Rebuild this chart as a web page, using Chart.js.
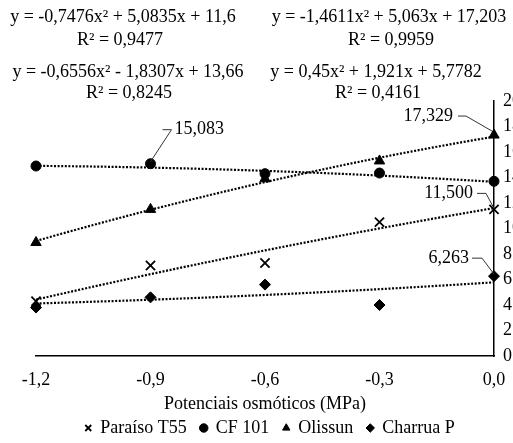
<!DOCTYPE html>
<html>
<head>
<meta charset="utf-8">
<script src="https://cdn.jsdelivr.net/npm/chart.js@4"></script>
<style>
	html, body { margin: 0; padding: 0; overflow: hidden; background: #fff; }
	canvas { display: block; }
</style>
</head>
<body>
<canvas id="chart-osmotic" width="540" height="443"></canvas>
<script>
// Chart data
const X_VALUES = [-1.2, -0.9, -0.6, -0.3, 0];
const X_TICKS = [-1.2, -0.9, -0.6, -0.3, 0];
const Y_TICKS = [0, 2, 4, 6, 8, 10, 12, 14, 16, 18, 20];

const SERIES_NAMES = ["Paraíso T55", "CF 101", "Olissun", "Charrua P"];
const PARAISO = [4.3, 7.1, 7.3, 10.5, 11.5];
const CF101 = [14.9, 15.083, 14.3, 14.35, 13.7];
const OLISSUN = [8.9, 11.5, 13.9, 15.3, 17.329];
const CHARRUA = [3.8, 4.6, 5.6, 4.0, 6.263];

// Polynomial trendlines (a, b, c) and R², as printed on the chart
const PARAISO_FIT = [-0.7476, 5.0835, 11.6];
const CF101_FIT = [-0.6556, -1.8307, 13.66];
const OLISSUN_FIT = [-1.4611, 5.063, 17.203];
const CHARRUA_FIT = [0.45, 1.921, 5.7782];
const R2 = [0.9477, 0.8245, 0.9959, 0.4161];

const FONT = "'Liberation Serif', 'Times New Roman', serif";
const BLACK = "#000";

const comma = (v) => String(v).replace(".", ",");

const trendPoints = (fit) => {
	const pts = [];
	for (let i = 0; i <= 24; i++) {
		const x = -1.2 + i * 0.05;
		pts.push({ x: x, y: fit[0] * x * x + fit[1] * x + fit[2] });
	}
	return pts;
};

const equationText = (fit) => {
	const b = fit[1];
	return "y = " + comma(fit[0]) + "x² " + (b < 0 ? "- " : "+ ") + comma(Math.abs(b)) + "x + " + comma(fit[2]);
};

const SERIES = [
	{ values: PARAISO, fit: PARAISO_FIT, style: "crossRot", radius: 6.5, border: 1.8 },
	{ values: CF101, fit: CF101_FIT, style: "circle", radius: 5, border: 1 },
	{ values: OLISSUN, fit: OLISSUN_FIT, style: "triangle", radius: 6, border: 1 },
	{ values: CHARRUA, fit: CHARRUA_FIT, style: "rectRot", radius: 5.5, border: 1 },
];

// Label placement (equation blocks and value callouts)
const EQ_POS = [
	{ cx: 123, y: 17, rx: 120, ry: 40 },
	{ cx: 128, y: 72, rx: 129, ry: 93 },
	{ cx: 389, y: 17, rx: 391, ry: 40 },
	{ cx: 376, y: 72, rx: 378, ry: 93 },
];
const CALLOUTS = [
	{ series: 1, index: 1, side: "right", tx: 24, ty: -34, l1: [12, -34], l2: [21, -34], l3: [0, -2] },
	{ series: 2, index: 4, side: "left", tx: -41, ty: -19, l1: [-36, -19], l2: [-28, -19], l3: [-2, -4] },
	{ series: 0, index: 4, side: "left", tx: -21, ty: -16, l1: [-17, -16], l2: [-8, -16], l3: [0, -1] },
	{ series: 3, index: 4, side: "left", tx: -25, ty: -18, l1: [-22, -18], l2: [-12, -18], l3: [0, -2] },
];

const annotations = {
	id: "annotations",
	afterDatasetsDraw(chart) {
		const ctx = chart.ctx;
		ctx.save();
		ctx.fillStyle = BLACK;
		ctx.font = "18px " + FONT;
		ctx.textBaseline = "middle";
		ctx.textAlign = "center";
		SERIES.forEach((s, i) => {
			const p = EQ_POS[i];
			ctx.fillText(equationText(s.fit), p.cx, p.y);
			ctx.fillText("R² = " + comma(R2[i]), p.rx, p.ry);
		});

		const xs = chart.scales.x;
		const ys = chart.scales.y;
		ctx.strokeStyle = "#333";
		ctx.lineWidth = 1;
		CALLOUTS.forEach((c) => {
			const v = SERIES[c.series].values[c.index];
			const px = xs.getPixelForValue(X_VALUES[c.index]);
			const py = ys.getPixelForValue(v);
			ctx.beginPath();
			ctx.moveTo(px + c.l1[0], py + c.l1[1]);
			ctx.lineTo(px + c.l2[0], py + c.l2[1]);
			ctx.lineTo(px + c.l3[0], py + c.l3[1]);
			ctx.stroke();
			ctx.textAlign = c.side === "right" ? "left" : "right";
			ctx.fillText(v.toFixed(3).replace(".", ","), px + c.tx, py + c.ty);
		});
		ctx.restore();
	},
};

const DATASETS = [];
SERIES.forEach((s, i) => {
	DATASETS.push({
		label: SERIES_NAMES[i],
		data: X_VALUES.map((x, j) => ({ x: x, y: s.values[j] })),
		pointStyle: s.style,
		pointRadius: s.radius,
		pointBorderWidth: s.border,
		backgroundColor: BLACK,
		borderColor: BLACK,
		borderWidth: s.border,
		showLine: false,
		clip: false,
	});
});
SERIES.forEach((s, i) => {
	DATASETS.push({
		type: "line",
		label: "trend",
		data: trendPoints(s.fit),
		borderColor: BLACK,
		borderWidth: 2.2,
		borderDash: [2, 1.6],
		borderCapStyle: "butt",
		pointRadius: 0,
		fill: false,
		tension: 0,
	});
});

// Chart config
const CONFIG = {
	type: "scatter",
	data: { datasets: DATASETS },
	options: {
		responsive: false,
		animation: false,
		layout: {
			padding: { left: 0, top: 101, right: 0, bottom: -4 },
		},
		plugins: {
			legend: {
				position: "bottom",
				labels: {
					usePointStyle: true,
					boxWidth: 6,
					boxHeight: 6,
					padding: 14,
					color: BLACK,
					font: { family: FONT, size: 18 },
					filter: (item) => item.text !== "trend",
				},
			},
			tooltip: { enabled: false },
		},
		scales: {
			x: {
				type: "linear",
				min: -1.2,
				max: 0,
				border: { color: BLACK, width: 1.5 },
				grid: { display: false, drawTicks: false },
				afterBuildTicks: (scale) => {
					scale.ticks = X_TICKS.map((v) => ({ value: v }));
				},
				afterFit: (scale) => {
					scale.height = 49;
				},
				ticks: {
					padding: 13,
					color: BLACK,
					font: { family: FONT, size: 18 },
					callback: (v) => Number(v).toFixed(1).replace(".", ","),
				},
				title: {
					display: true,
					text: "Potenciais osmóticos (MPa)",
					color: BLACK,
					font: { family: FONT, size: 18 },
					padding: { top: 0, bottom: -10 },
				},
			},
			y: {
				position: "right",
				min: 0,
				max: 20,
				border: { color: BLACK, width: 1.5 },
				grid: { display: false, drawTicks: false },
				afterBuildTicks: (scale) => {
					scale.ticks = Y_TICKS.map((v) => ({ value: v }));
				},
				afterFit: (scale) => {
					scale.width = 46;
				},
				ticks: {
					padding: 9,
					color: BLACK,
					font: { family: FONT, size: 18 },
				},
			},
			// empty spacer on the left so the plot starts at the -1,2 column
			spacer: {
				type: "linear",
				position: "left",
				grid: { display: false, drawTicks: false },
				border: { display: false },
				ticks: { display: false },
				afterFit: (scale) => {
					scale.width = 36;
				},
			},
		},
	},
	plugins: [annotations],
};

// Init chart
const WRAPPER = document.getElementById("chart-osmotic");
if (WRAPPER) {
	new Chart(WRAPPER, CONFIG);
}
</script>
</body>
</html>
